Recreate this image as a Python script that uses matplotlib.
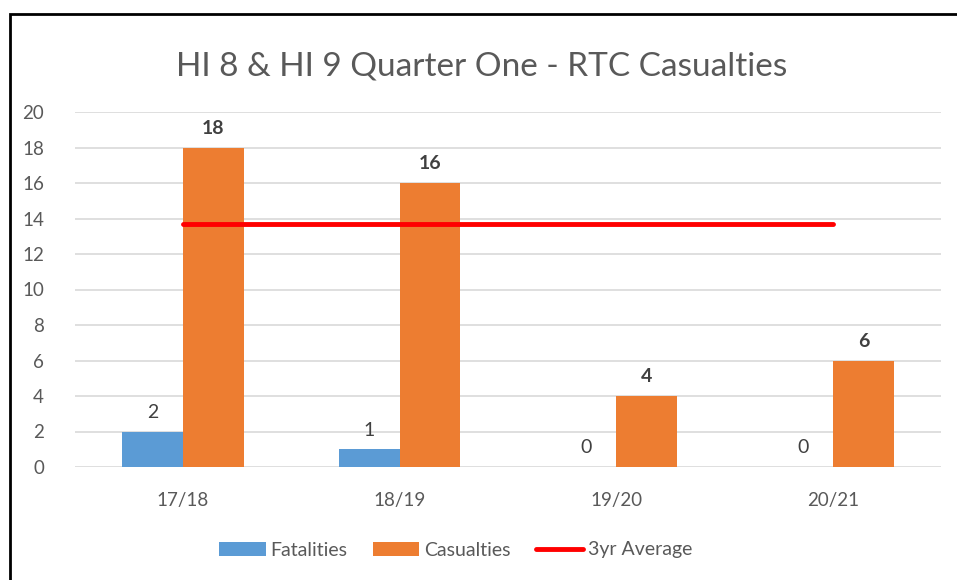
import matplotlib.pyplot as plt
import matplotlib.patches as patches
import numpy as np

plt.rcParams['font.family'] = ['Lato', 'DejaVu Sans']

# --- datos ---
years = ['17/18', '18/19', '19/20', '20/21']
fatalities = [2, 1, 0, 0]
casualties = [18, 16, 4, 6]
avg_3yr = 13.67

gris = '#595959'

fig = plt.figure(figsize=(9.57, 5.8), dpi=100)
ax = fig.add_axes([74.5 / 957, 1 - 467 / 580, 867 / 957, 355 / 580])

x = np.arange(len(years))
w = 0.28
b1 = ax.bar(x - w / 2, fatalities, w, color='#5B9BD5', label='Fatalities', zorder=3)
b2 = ax.bar(x + w / 2, casualties, w, color='#ED7D31', label='Casualties', zorder=3)
ln, = ax.plot([x[0], x[-1]], [avg_3yr, avg_3yr], color='#FF0000', lw=3.5,
              solid_capstyle='round', label='3yr Average', zorder=4)

# etiquetas de datos
for xi, v in zip(x, fatalities):
    ax.text(xi - w / 2, v + 0.6, str(v), ha='center', va='bottom', fontsize=14, color='#404040')
for xi, v in zip(x, casualties):
    ax.text(xi + w / 2, v + 0.6, str(v), ha='center', va='bottom', fontsize=14,
            fontweight='bold', color='#404040')

ax.set_xlim(-0.5, len(years) - 0.5)
ax.set_ylim(0, 20)
ax.set_yticks(range(0, 21, 2))
ax.set_xticks(x)
ax.set_xticklabels(years)
ax.tick_params(axis='both', length=0, labelsize=13.5, labelcolor=gris)
ax.tick_params(axis='x', pad=18)
ax.tick_params(axis='y', pad=22)
for s in ax.spines.values():
    s.set_visible(False)
ax.grid(axis='y', color='#D9D9D9', lw=1.2, zorder=0)

fig.text(0.503, 1 - 66 / 580, 'HI 8 & HI 9 Quarter One - RTC Casualties',
         ha='center', va='center', fontsize=24, color=gris)

leg = fig.legend(handles=[b1, b2, ln], loc='center', bbox_to_anchor=(0.476, 1 - 550 / 580),
                 ncol=3, frameon=False, fontsize=14, handlelength=2.4, handleheight=0.75,
                 handletextpad=0.25, columnspacing=1.3)
for t in leg.get_texts():
    t.set_color(gris)

# marco del grafico
fig.add_artist(patches.Rectangle((10 / 957, -0.1), 2, 1 - 14 / 580 + 0.1,
                                 transform=fig.transFigure, fill=False,
                                 edgecolor='black', lw=2))

fig.savefig('out.png', dpi=100)
